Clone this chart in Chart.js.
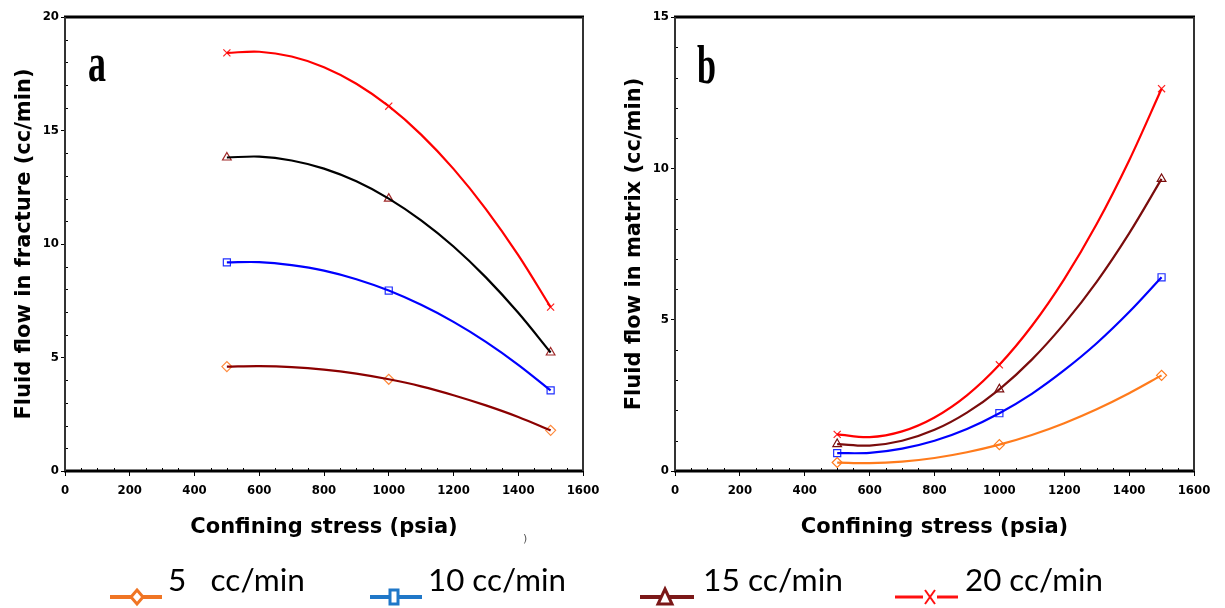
<!DOCTYPE html>
<html>
<head>
<meta charset="utf-8">
<script src="https://cdn.jsdelivr.net/npm/chart.js@4.4.1/dist/chart.umd.min.js"></script>
<style>
  html, body { margin:0; padding:0; background:#fff; }
  body { width:1225px; height:608px; position:relative; overflow:hidden; }
  #c1 { position:absolute; left:0; top:0; }
  #c2 { position:absolute; left:610px; top:0; }
  #overlay { position:absolute; left:0; top:0; pointer-events:none; }
</style>
</head>
<body>
<canvas id="c1" width="600" height="540"></canvas>
<canvas id="c2" width="615" height="540"></canvas>
<svg id="overlay" width="1225" height="608" xmlns="http://www.w3.org/2000/svg"></svg>
<script>
// ---------- data ----------
const stressPts = [500, 1000, 1500];                 // measured points (psia)
const stressCurve = [500, 600, 700, 800, 900, 1000, 1100, 1200, 1300, 1400, 1500]; // readings along the fitted curves

// (a) fluid flow in fracture (cc/min) at markers
const frac5  = [4.60, 4.04, 1.79];
const frac10 = [9.19, 7.95, 3.55];
const frac15 = [13.81, 12.00, 5.22];
const frac20 = [18.42, 16.07, 7.22];
// (a) fitted curves
const fracCurve5  = [4.60, 4.62, 4.58, 4.47, 4.29, 4.04, 3.73, 3.34, 2.89, 2.38, 1.79];
const fracCurve10 = [9.19, 9.20, 9.07, 8.83, 8.45, 7.95, 7.32, 6.57, 5.69, 4.68, 3.55];
const fracCurve15 = [13.81, 13.85, 13.68, 13.32, 12.76, 12.00, 11.04, 9.89, 8.53, 6.97, 5.22];
const fracCurve20 = [18.42, 18.47, 18.26, 17.79, 17.06, 16.07, 14.82, 13.31, 11.54, 9.51, 7.22];

// (b) fluid flow in matrix (cc/min) at markers
const mat5  = [0.28, 0.87, 3.16];
const mat10 = [0.59, 1.91, 6.40];
const mat15 = [0.89, 2.70, 9.65];
const mat20 = [1.21, 3.51, 12.63];
// (b) fitted curves
const matCurve5  = [0.28, 0.26, 0.31, 0.43, 0.62, 0.87, 1.19, 1.58, 2.04, 2.57, 3.16];
const matCurve10 = [0.59, 0.60, 0.74, 1.00, 1.39, 1.91, 2.55, 3.33, 4.22, 5.25, 6.40];
const matCurve15 = [0.89, 0.84, 1.00, 1.36, 1.93, 2.70, 3.68, 4.87, 6.25, 7.85, 9.65];
const matCurve20 = [1.21, 1.12, 1.31, 1.77, 2.50, 3.51, 4.79, 6.34, 8.16, 10.26, 12.63];

const seriesNames = ['5   cc/min', '10 cc/min', '15 cc/min', '20 cc/min'];
const xTitle = 'Confining stress (psia)';
const yTitleA = 'Fluid flow in fracture (cc/min)';
const yTitleB = 'Fluid flow in matrix (cc/min)';
const panelLabels = ['a', 'b'];

// ---------- helpers ----------
function pts(xs, ys) { return xs.map((x, i) => ({ x: x, y: ys[i] })); }
function curve(ys, color) {
  return { data: pts(stressCurve, ys), borderColor: color, borderWidth: 2.2, pointRadius: 0,
           tension: 0.35, fill: false };
}
function markers(ys, color, style) {
  return { data: pts(stressPts, ys), showLine: false, pointStyle: style, pointRadius: 5,
           pointBorderColor: color, pointBackgroundColor: 'rgba(255,255,255,0)', pointBorderWidth: 1.2,
           borderColor: color };
}

const framePlugin = {
  id: 'frame',
  afterDraw(chart, args, opts) {
    const { ctx, chartArea: a, scales } = chart;
    const xs = scales.x, ys = scales.y;
    ctx.save();
    ctx.strokeStyle = '#000';
    ctx.lineWidth = 1;
    for (let v = xs.min; v <= xs.max; v += opts.xMinor) {
      if (v % opts.xMajor === 0) continue;
      const px = Math.round(xs.getPixelForValue(v)) + 0.5;
      ctx.beginPath(); ctx.moveTo(px, a.bottom); ctx.lineTo(px, a.bottom - 3); ctx.stroke();
    }
    for (let v = ys.min; v <= ys.max; v += opts.yMinor) {
      if (v % opts.yMajor === 0) continue;
      const py = Math.round(ys.getPixelForValue(v)) + 0.5;
      ctx.beginPath(); ctx.moveTo(a.left, py); ctx.lineTo(a.left + 3, py); ctx.stroke();
    }
    ctx.strokeStyle = '#000';
    ctx.lineWidth = 3;
    ctx.beginPath();
    ctx.moveTo(a.left - 1, a.top); ctx.lineTo(a.right + 1, a.top);
    ctx.moveTo(a.left - 1, a.bottom); ctx.lineTo(a.right + 1, a.bottom);
    ctx.stroke();
    ctx.strokeStyle = '#333';
    ctx.lineWidth = 2;
    ctx.beginPath();
    ctx.moveTo(a.left, a.top); ctx.lineTo(a.left, a.bottom);
    ctx.moveTo(a.right, a.top); ctx.lineTo(a.right, a.bottom);
    ctx.stroke();
    ctx.restore();
  }
};

const tickFont = { family: "'Liberation Sans Narrow', 'DejaVu Sans Condensed', 'Liberation Sans', sans-serif", weight: 'bold', size: 13 };
const titleFont = { family: "'DejaVu Sans', Verdana, sans-serif", weight: 'bold', size: 21, lineHeight: 1.2 };

function makeOptions(yMax, yTitle, xScaleHeight, padRight) {
  return {
    responsive: false,
    animation: false,
    events: [],
    layout: { padding: { left: 12, top: 17, right: padRight, bottom: 0 } },
    plugins: {
      legend: { display: false },
      tooltip: { enabled: false },
      frame: { xMinor: 50, xMajor: 200, yMinor: 1, yMajor: 5 }
    },
    scales: {
      x: {
        type: 'linear', min: 0, max: 1600,
        ticks: { stepSize: 200, font: tickFont, color: '#000', padding: 7, maxRotation: 0, autoSkip: false,
                 callback: v => String(v) },
        grid: { drawOnChartArea: false, drawTicks: true, tickLength: 5, color: '#000', lineWidth: 1 },
        border: { display: false },
        title: { display: true, text: xTitle, font: titleFont, color: '#000', padding: 0 },
        afterFit(s) { s.height = xScaleHeight; s.paddingLeft = 0; s.paddingRight = 0; }
      },
      y: {
        type: 'linear', min: 0, max: yMax,
        ticks: { stepSize: 5, font: tickFont, color: '#000', padding: 2, callback: v => String(v) },
        grid: { drawOnChartArea: false, drawTicks: true, tickLength: 4, color: '#000', lineWidth: 1 },
        border: { display: false },
        title: { display: true, text: yTitle, font: titleFont, color: '#000', padding: 0 },
        afterFit(s) { s.width = 53; s.paddingTop = 0; s.paddingBottom = 0; }
      }
    }
  };
}

new Chart(document.getElementById('c1'), {
  type: 'line',
  data: {
    datasets: [
      curve(fracCurve5, '#8b0000'),
      curve(fracCurve10, '#0000ff'),
      curve(fracCurve15, '#000000'),
      curve(fracCurve20, '#ff0000'),
      markers(frac5, '#ff8a3d', 'rectRot'),
      markers(frac10, '#2030ff', 'rect'),
      markers(frac15, '#a02828', 'triangle'),
      markers(frac20, '#ff2020', 'crossRot')
    ]
  },
  options: makeOptions(20, yTitleA, 69, 17),
  plugins: [framePlugin]
});

new Chart(document.getElementById('c2'), {
  type: 'line',
  data: {
    datasets: [
      curve(matCurve5, '#ff7b1c'),
      curve(matCurve10, '#0000ff'),
      curve(matCurve15, '#7a0c0c'),
      curve(matCurve20, '#ff0000'),
      markers(mat5, '#ff7b1c', 'rectRot'),
      markers(mat10, '#2030ff', 'rect'),
      markers(mat15, '#7a0c0c', 'triangle'),
      markers(mat20, '#ff2020', 'crossRot')
    ]
  },
  options: makeOptions(15, yTitleB, 69, 31),
  plugins: [framePlugin]
});

// ---------- overlay text: panel letters, legend ----------
const NS = 'http://www.w3.org/2000/svg';
const svg = document.getElementById('overlay');
function el(tag, attrs, text) {
  const e = document.createElementNS(NS, tag);
  for (const k in attrs) e.setAttribute(k, attrs[k]);
  if (text !== undefined) e.textContent = text;
  svg.appendChild(e);
  return e;
}
const panelPos = [{ x: 88, y: 81, w: 18 }, { x: 697, y: 83, w: 19 }];
panelLabels.forEach((t, i) => {
  el('text', { x: panelPos[i].x, y: panelPos[i].y, 'font-family': "'Liberation Serif', 'DejaVu Serif', serif",
    'font-weight': 'bold', 'font-size': 54, textLength: panelPos[i].w, lengthAdjust: 'spacingAndGlyphs', fill: '#000' }, t);
});

const legendColors = ['#f07524', '#1f77c8', '#7b1818', '#ff1010'];
const legendLayout = [
  { x0: 110, x1: 162, mx: 137, tx: 168, tw: 137 },
  { x0: 370, x1: 422, mx: 394, tx: 428, tw: 138 },
  { x0: 640, x1: 694, mx: 665, tx: 703, tw: 140 },
  { x0: 895, x1: 958, mx: 930, tx: 965, tw: 138 }
];
const ly = 597;
seriesNames.forEach((name, i) => {
  const L = legendLayout[i], c = legendColors[i];
  if (i === 3) {
    el('line', { x1: L.x0, y1: ly, x2: L.mx - 7, y2: ly, stroke: c, 'stroke-width': 3 });
    el('line', { x1: L.mx + 7, y1: ly, x2: L.x1, y2: ly, stroke: c, 'stroke-width': 3 });
    el('line', { x1: L.mx - 5, y1: ly - 7, x2: L.mx + 5, y2: ly + 7, stroke: c, 'stroke-width': 2 });
    el('line', { x1: L.mx + 5, y1: ly - 7, x2: L.mx - 5, y2: ly + 7, stroke: c, 'stroke-width': 2 });
  } else {
    el('line', { x1: L.x0, y1: ly, x2: L.x1, y2: ly, stroke: c, 'stroke-width': 4 });
    if (i === 0) {
      el('polygon', { points: `${L.mx},${ly-7} ${L.mx+6},${ly} ${L.mx},${ly+7} ${L.mx-6},${ly}`, fill: '#fff', stroke: c, 'stroke-width': 3 });
    } else if (i === 1) {
      el('rect', { x: L.mx - 4, y: ly - 7, width: 8, height: 14, fill: '#fff', stroke: c, 'stroke-width': 3 });
    } else {
      el('polygon', { points: `${L.mx},${ly-8} ${L.mx+7},${ly+7} ${L.mx-7},${ly+7}`, fill: '#fff', stroke: c, 'stroke-width': 3 });
    }
  }
  const t = el('text', { x: L.tx, y: 591, 'font-family': "Lato, 'Open Sans', sans-serif", 'font-size': 31,
    textLength: L.tw, lengthAdjust: 'spacingAndGlyphs', fill: '#000' }, name);
  t.setAttribute('xml:space', 'preserve');
  t.style.whiteSpace = 'pre';
});
el('text', { x: 523, y: 542, 'font-family': 'DejaVu Sans, sans-serif', 'font-size': 11, fill: '#555' }, ')');
</script>
</body>
</html>
